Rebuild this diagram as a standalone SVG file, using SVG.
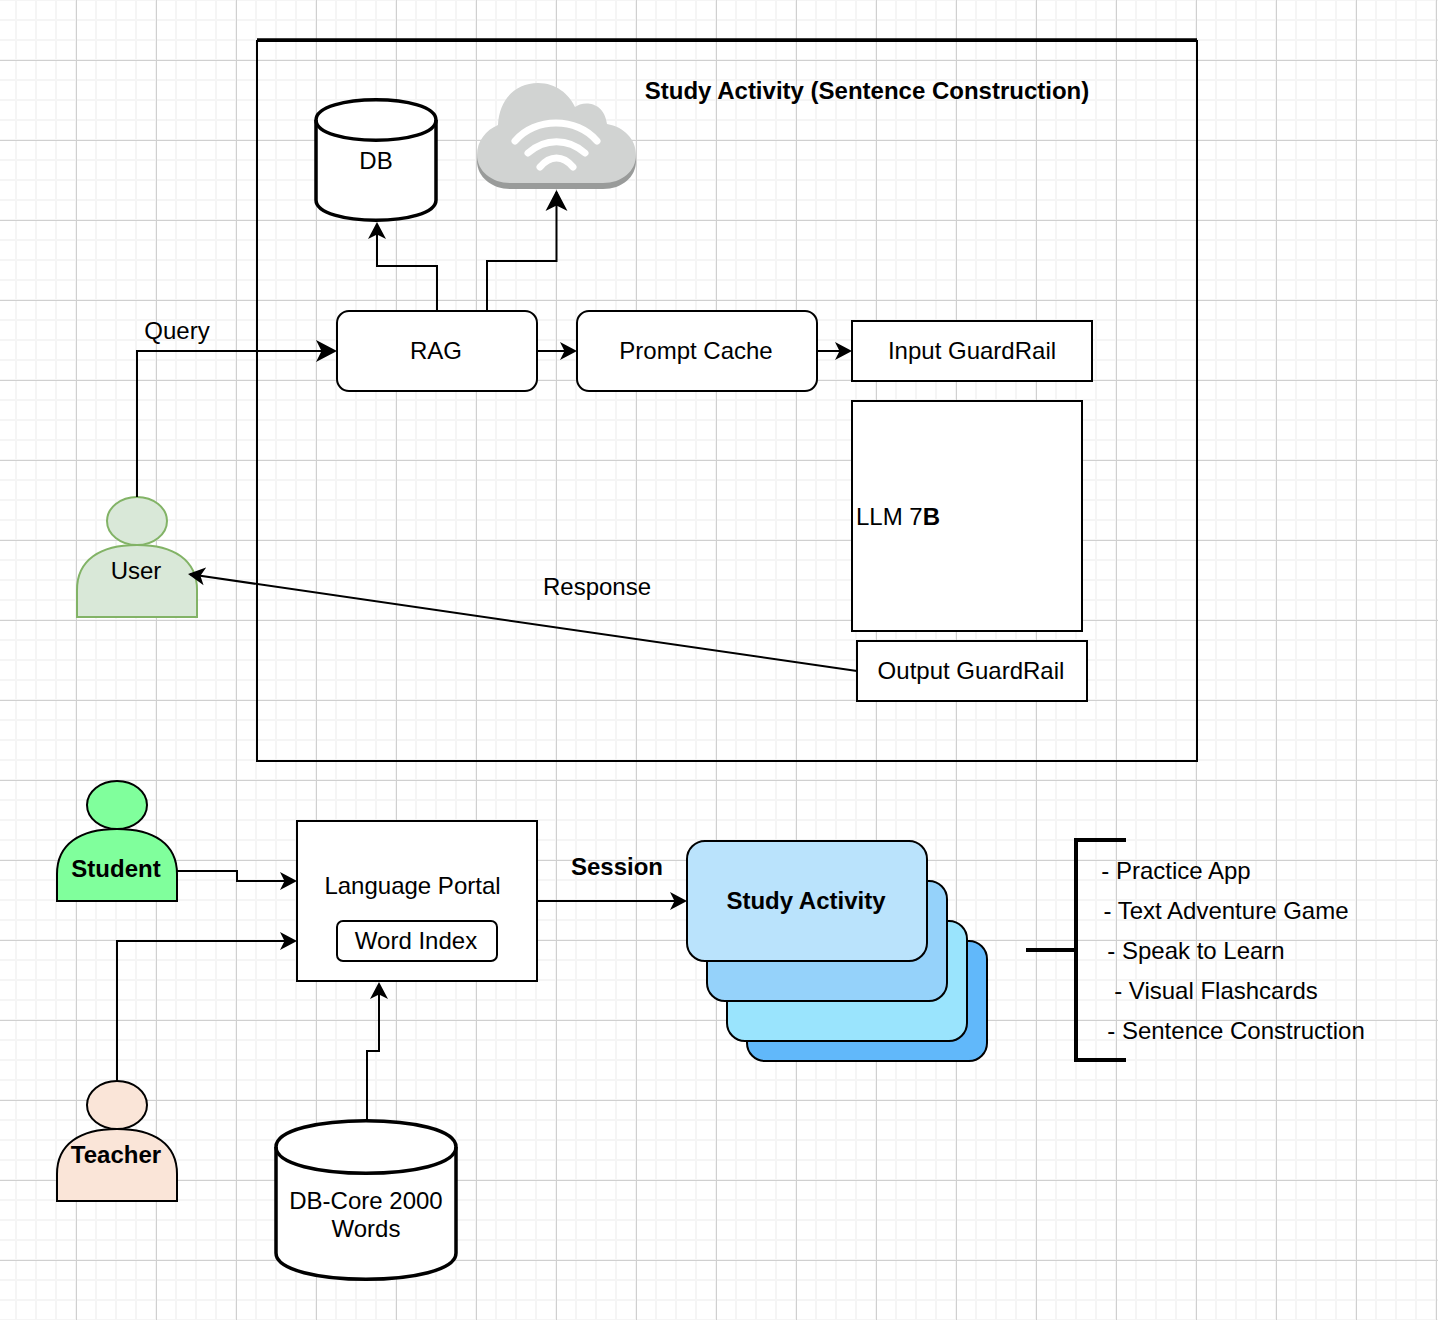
<svg xmlns="http://www.w3.org/2000/svg" width="1438" height="1320" viewBox="0 0 1438 1320">
<style>
text{font-family:"Liberation Sans",Arial,sans-serif;font-size:24px;fill:#000;text-anchor:middle}
.b{font-weight:bold}
.s{fill:#fff;stroke:#000;stroke-width:2}
.n{fill:none;stroke:#000;stroke-width:2}
.c{fill:none;stroke:#000;stroke-width:2;marker-end:url(#a)}
.l{fill:none;stroke:#000;stroke-width:2;marker-end:url(#A)}
</style>
<defs>
<marker id="a" viewBox="0 -10 18 20" refX="15" refY="0" markerWidth="18" markerHeight="20" markerUnits="userSpaceOnUse" orient="auto"><path d="M0 -9L17 0L0 9L4.500 0Z" fill="#000"/></marker>
<marker id="A" viewBox="0 -12 22 24" refX="19" refY="0" markerWidth="22" markerHeight="24" markerUnits="userSpaceOnUse" orient="auto"><path d="M0 -11L21 0L0 11L5.500 0Z" fill="#000"/></marker>
<pattern id="minor" width="20" height="20" patternUnits="userSpaceOnUse" x="-5" y="-1"><rect width="2" height="20" fill="#f5f5f5"/><rect width="20" height="2" fill="#f5f5f5"/></pattern>
<pattern id="major" width="80" height="80" patternUnits="userSpaceOnUse" x="-4" y="-20"><rect width="1" height="80" fill="#d0d0d0"/><rect width="80" height="1" fill="#d0d0d0"/></pattern>
</defs>
<rect width="1438" height="1320" fill="#fff"/>
<rect width="1438" height="1320" fill="url(#minor)"/>
<rect width="1438" height="1320" fill="url(#major)"/>

<g id="frame"><rect x="257" y="41" width="940" height="720" fill="none" stroke="#000" stroke-width="2"/><path d="M257 40H1197" stroke="#000" stroke-width="3.500"/></g>
<g id="title"><text x="867" y="99" class="b">Study Activity (Sentence Construction)</text></g>

<g id="db"><path class="s" style="stroke-width:3.500" d="M316 120C316 93 436 93 436 120V200C436 227 316 227 316 200Z"/><path class="n" style="stroke-width:3.500" d="M316 120C316 147 436 147 436 120"/><text x="376" y="169">DB</text></g>

<g id="cloud">
<path fill="#999b9a" d="M477 155V161C477 177 492 189 510 189H603C622 189 636 177 636 161V155Z"/>
<path fill="#d1d3d2" d="M498 125C499 99 516 83 538 83C556 83 569 94 575 107C582 101 604 100 607 124C624 127 636 139 636 155C636 171 622 183 603 183H510C492 183 477 171 477 155C477 141 486 130 498 125Z"/>
<path fill="none" stroke="#fff" stroke-width="7" stroke-linecap="round" d="M515 141C535 117 577 117 597 141M528 153C545 138 568 138 585 153M540 167C550 155 563 155 573 167"/>
</g>

<g id="rag"><rect class="s" x="337" y="311" width="200" height="80" rx="12"/><text x="436" y="359">RAG</text></g>
<g id="prompt-cache"><rect class="s" x="577" y="311" width="240" height="80" rx="12"/><text x="696" y="359">Prompt Cache</text></g>
<g id="input-guardrail"><rect class="s" x="852" y="321" width="240" height="60"/><text x="972" y="359">Input GuardRail</text></g>
<g id="llm"><rect class="s" x="852" y="401" width="230" height="230"/><text x="856" y="525" style="text-anchor:start">LLM 7<tspan class="b">B</tspan></text></g>
<g id="output-guardrail"><rect class="s" x="857" y="641" width="230" height="60"/><text x="971" y="679">Output GuardRail</text></g>

<g id="user"><path d="M77 617V590C77 560 100 545 137 545C174 545 197 560 197 590V617Z" fill="#d9e8d8" stroke="#82b366" stroke-width="2"/><ellipse cx="137" cy="521" rx="30" ry="24" fill="#d9e8d8" stroke="#82b366" stroke-width="2"/><text x="136" y="579">User</text></g>

<text x="177" y="339">Query</text>
<text x="597" y="595">Response</text>
<text x="617" y="875" class="b">Session</text>

<g id="student"><path d="M57 901V874C57 844 80 829 117 829C154 829 177 844 177 874V901Z" fill="#80ff9c" stroke="#000" stroke-width="2"/><ellipse cx="117" cy="805" rx="30" ry="24" fill="#80ff9c" stroke="#000" stroke-width="2"/><text x="116" y="877" class="b">Student</text></g>
<g id="teacher"><path d="M57 1201V1174C57 1144 80 1129 117 1129C154 1129 177 1144 177 1174V1201Z" fill="#fae5d8" stroke="#000" stroke-width="2"/><ellipse cx="117" cy="1105" rx="30" ry="24" fill="#fae5d8" stroke="#000" stroke-width="2"/><text x="116" y="1163" class="b">Teacher</text></g>

<g id="language-portal"><rect class="s" x="297" y="821" width="240" height="160"/><text x="412.500" y="894">Language Portal</text></g>
<g id="word-index"><rect class="s" x="337" y="921" width="160" height="40" rx="6"/><text x="416" y="949">Word Index</text></g>
<g id="db-core"><path class="s" style="stroke-width:3.500" d="M276 1147C276 1112 456 1112 456 1147V1253C456 1288 276 1288 276 1253Z"/><path class="n" style="stroke-width:3.500" d="M276 1147C276 1182 456 1182 456 1147"/><text x="366" y="1209">DB-Core 2000</text><text x="366" y="1237">Words</text></g>

<g id="stack-4"><rect x="747" y="941" width="240" height="120" rx="18" fill="#61b8fa" stroke="#000" stroke-width="2"/></g>
<g id="stack-3"><rect x="727" y="921" width="240" height="120" rx="18" fill="#9ae4fd" stroke="#000" stroke-width="2"/></g>
<g id="stack-2"><rect x="707" y="881" width="240" height="120" rx="18" fill="#95d2fa" stroke="#000" stroke-width="2"/></g>
<g id="study-activity"><rect x="687" y="841" width="240" height="120" rx="18" fill="#bae3fc" stroke="#000" stroke-width="2"/><text x="806" y="909" class="b">Study Activity</text></g>

<g id="brace"><path d="M1126 840H1076V1060H1126M1076 950H1026" fill="none" stroke="#000" stroke-width="4"/></g>
<g id="activity-list">
<text x="1176" y="879">- Practice App</text>
<text x="1226" y="919">- Text Adventure Game</text>
<text x="1196" y="959">- Speak to Learn</text>
<text x="1216" y="999">- Visual Flashcards</text>
<text x="1236" y="1039">- Sentence Construction</text>
</g>

<g id="connectors">
<path class="c" d="M437 311V266H377V224"/>
<path class="l" d="M487 311V261H556.500V192"/>
<path class="l" d="M137 497V351H335"/>
<path class="c" d="M537 351H575"/>
<path class="c" d="M817 351H850"/>
<path class="c" d="M857 671L190 574.300"/>
<path class="c" d="M177 871H237V881H295"/>
<path class="c" d="M117 1081V941H295"/>
<path class="c" d="M367 1121V1051H379V984"/>
<path class="c" d="M537 901H685"/>
</g>
</svg>
